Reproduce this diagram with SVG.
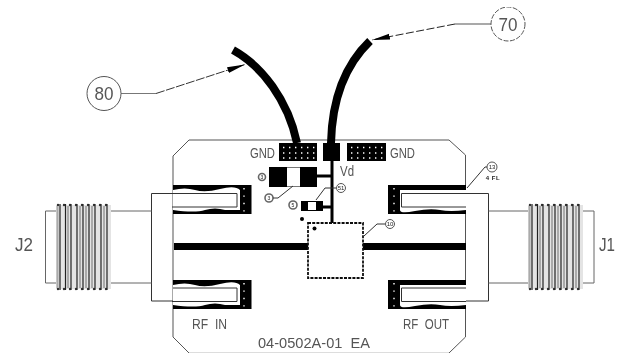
<svg xmlns="http://www.w3.org/2000/svg" width="618" height="354" viewBox="0 0 618 354">
<defs>
<style>
text{white-space:pre}
.ln{fill:none;stroke:#333;stroke-width:1}
.lg{fill:none;stroke:#666;stroke-width:1}
.k{fill:#000}
.w{fill:#fff}
.wire{fill:none;stroke:#000;stroke-width:8}
.t{font-family:"Liberation Sans",Arial,sans-serif;fill:#555;font-size:14px}
.big{font-size:19px}
.s{font-family:"Liberation Sans",Arial,sans-serif;fill:#222;font-size:6px;text-anchor:middle}
.c{fill:#fff;stroke:#555;stroke-width:1}
.c2{fill:#fff;stroke:#666;stroke-width:1.600}
.dots{fill:none;stroke:#fff;stroke-width:1.400;stroke-dasharray:1.400 4.600}
.thr{fill:none;stroke:#222;stroke-width:1.200}
.thg{fill:none;stroke:#aaa;stroke-width:2}
.sc{fill:none;stroke:#333;stroke-width:2.400;stroke-linecap:round;stroke-dasharray:0 6}
</style>
<filter id="b" x="0" y="0" width="100%" height="100%"><feGaussianBlur stdDeviation="0.35"/></filter>
<marker id="ah" markerWidth="19" markerHeight="8" refX="18" refY="3" orient="auto" markerUnits="userSpaceOnUse"><path d="M0,0L18,3L0,6Z" fill="#000"/></marker>
<g id="thread">
<rect x="0" y="0" width="55" height="84" fill="#e4e4e4"/>
<path class="sc" d="M2,0H54M2,84H54"/>
<path class="thg" d="M1.500,1V83M12,1V83M24,1V83M30,1V83M36,1V83M48,1V83"/>
<path class="thr" d="M4,-1V85M9.500,-1V85M15,-1V85M21,-1V85M27,-1V85M33,-1V85M39,-1V85M45,-1V85M51,-1V85"/>
</g>
</defs>
<rect width="618" height="354" fill="#fff"/>
<g filter="url(#b)">
<g id="board">
<path d="M189,353L173,337V156L189,140H449L465.500,155V337L449,353" fill="#fff" stroke="#555" stroke-width="1"/>
<path d="M189,353H449" fill="none" stroke="#bbb" stroke-width="1"/>
</g>
<g id="slots">
<rect class="k" x="173" y="185" width="78.500" height="29"/>
<rect class="k" x="173" y="280" width="78.500" height="29"/>
<rect class="k" x="388" y="185" width="78" height="29"/>
<rect class="k" x="388" y="280" width="78" height="29"/>
<path class="w" d="M173,190Q185,187 195,190T220,189T240,190V210H225Q215,207 205,210T173,210Z"/>
<path class="w" d="M173,285Q185,282 195,285T220,284T240,285V305H225Q215,302 205,305T173,305Z"/>
<path class="w" d="M400,190H466V210Q450,212 440,210T415,211T400,210Z"/>
<path class="w" d="M400,285H466V305Q450,307 440,305T415,306T400,305Z"/>
<path class="ln" d="M173,193.500H237V207H172"/>
<path class="ln" d="M173,288H237V301.500H172"/>
<path class="ln" d="M466,193.500H401.500V207H466"/>
<path class="ln" d="M466,288H401.500V301.500H466"/>
<path class="dots" d="M244,188V212M244,283V307M394,188V212M394,283V307" style="stroke-dasharray:1.400 6"/>
</g>
<g id="traces">
<rect class="k" x="174" y="243" width="134" height="7"/>
<rect class="k" x="363" y="243" width="103" height="7"/>
<path d="M332,160V223M317,176H332M322,207H332" stroke="#000" stroke-width="3" fill="none"/>
</g>
<g id="J2">
<path class="ln" d="M173,193.500H151.500V301H173"/>
<path class="lg" d="M151.500,211H111M151.500,283H111M56,211H45.500V283H56"/>
<use href="#thread" x="56" y="205"/>
<text class="t big" x="15" y="251" textLength="18" lengthAdjust="spacingAndGlyphs">J2</text>
</g>
<g id="J1">
<path class="ln" d="M466,193.500H488.500V301H466"/>
<path class="lg" d="M488.500,211H528M488.500,283H528M583,211H594V283H583"/>
<use href="#thread" x="528" y="205"/>
<text class="t big" x="599" y="251" textLength="16" lengthAdjust="spacingAndGlyphs">J1</text>
</g>
<g id="pads">
<rect class="k" x="279" y="143" width="38" height="18"/>
<path class="dots" d="M283,147.500H315M283,153H315M283,158H315"/>
<rect class="k" x="323" y="143" width="17" height="18"/>
<rect class="k" x="347" y="143" width="39" height="18"/>
<path class="dots" d="M351,147.500H384M351,153H384M351,158H384"/>
<text class="t" x="250" y="158" style="font-size:15px" textLength="25" lengthAdjust="spacingAndGlyphs">GND</text>
<text class="t" x="390" y="158" style="font-size:15px" textLength="25" lengthAdjust="spacingAndGlyphs">GND</text>
<text class="t" x="340" y="176" style="font-size:15px" textLength="14" lengthAdjust="spacingAndGlyphs">Vd</text>
</g>
<g id="cap">
<path d="M287,167.500H300M287,186.500H300" stroke="#777" stroke-width="1" fill="none"/>
<rect class="k" x="269" y="167" width="18" height="20"/>
<rect class="k" x="300" y="167" width="17" height="20"/>
<circle class="c2" cx="262" cy="177" r="3.500"/>
<text class="s" x="262" y="179" style="font-size:5px">3</text>
<circle class="c2" cx="269" cy="198" r="4"/>
<text class="s" x="269" y="200" style="font-size:5px">3</text>
<path class="ln" d="M273,198H278L293,186"/>
</g>
<g id="res">
<rect class="k" x="301" y="201" width="22" height="10"/>
<rect class="w" x="308" y="202" width="8" height="8"/>
<circle class="c2" cx="293" cy="205" r="4"/>
<text class="s" x="293" y="207" style="font-size:5px">5</text>
<circle class="c" cx="341" cy="188" r="4.500"/>
<text class="s" x="341" y="190">51</text>
<path class="ln" d="M336,188H325L316,200"/>
</g>
<g id="chip">
<rect x="308" y="223" width="55" height="55" fill="#fff" stroke="#111" stroke-width="1.800" stroke-dasharray="3 1.200"/>
<circle class="k" cx="314.500" cy="228.500" r="2"/>
<circle class="k" cx="302" cy="219" r="2"/>
<circle class="c" cx="390" cy="224" r="4.500"/>
<text class="s" x="390" y="226">10</text>
<path class="ln" d="M385,224H377L364,236"/>
</g>
<g id="note13">
<circle class="c" cx="492" cy="167" r="5"/>
<text class="s" x="492" y="169">13</text>
<text class="s" x="493" y="180" style="font-weight:bold;letter-spacing:.5px">4 FL</text>
<path class="ln" d="M487,167H485L467,188"/>
</g>
<g id="labels">
<text class="t" x="192" y="329" textLength="35" lengthAdjust="spacingAndGlyphs">RF  IN</text>
<text class="t" x="403" y="329" textLength="46" lengthAdjust="spacingAndGlyphs">RF  OUT</text>
<text class="t" x="258" y="348" style="font-size:15px" textLength="112" lengthAdjust="spacingAndGlyphs">04-0502A-01  EA</text>
</g>
<g id="connectors">
<path class="wire" d="M233,50C262,66 288,100 297,143"/>
<path class="wire" d="M370,41C345,65 332,100 331,143"/>
<path d="M121,93.500H156" fill="none" stroke="#777" stroke-width="1"/>
<path d="M156,93.500L245,64.500" fill="none" stroke="#333" stroke-width="1" stroke-dasharray="9 1.500" marker-end="url(#ah)"/>
<path d="M491,24H455" fill="none" stroke="#555" stroke-width="1"/>
<path d="M455,24L372,40" fill="none" stroke="#222" stroke-width="1" stroke-dasharray="8 2.500" marker-end="url(#ah)"/>
</g>
<g id="n80">
<circle class="c" cx="104" cy="93.500" r="17"/>
<text class="t big" x="94.500" y="100" textLength="19" lengthAdjust="spacingAndGlyphs">80</text>
</g>
<g id="n70">
<circle class="c" cx="508" cy="24" r="17" stroke-dasharray="5 1.500"/>
<text class="t big" x="498.500" y="30.500" textLength="19" lengthAdjust="spacingAndGlyphs">70</text>
</g>
</g>
</svg>
